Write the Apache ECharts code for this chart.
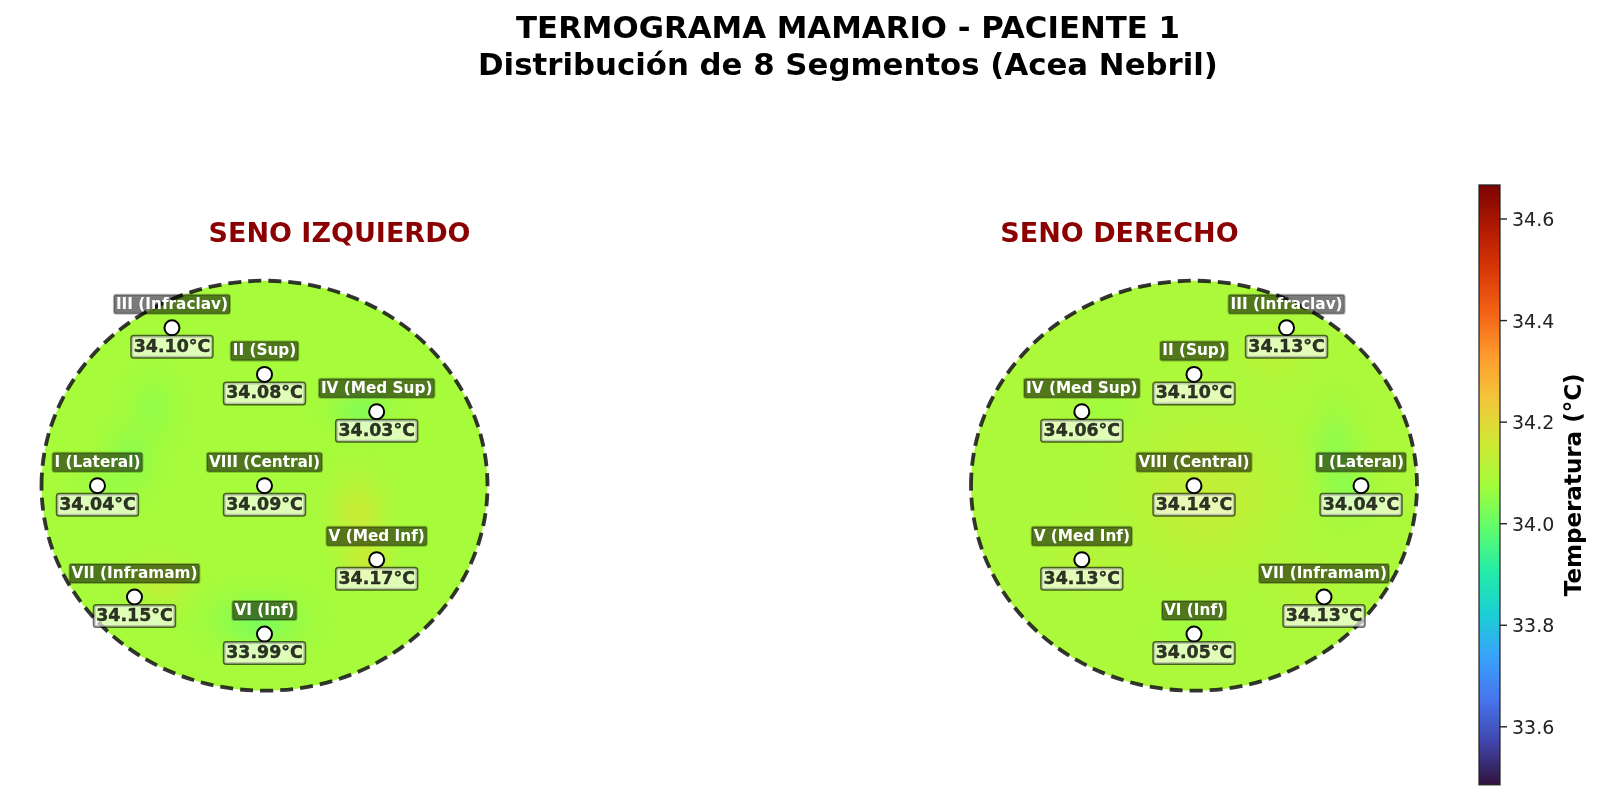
<!DOCTYPE html>
<html>
<head>
<meta charset="utf-8">
<style>html,body{margin:0;padding:0;background:#fff}#c{width:1600px;height:799px}</style>
<script src="https://cdn.jsdelivr.net/npm/echarts@6/dist/echarts.min.js"></script>
</head>
<body>
<div id="c"></div>
<script>
const mainTitle = 'TERMOGRAMA MAMARIO - PACIENTE 1\nDistribución de 8 Segmentos (Acea Nebril)';
const leftTitle = 'SENO IZQUIERDO';
const rightTitle = 'SENO DERECHO';
const colorbarName = 'Temperatura (°C)';
const segments = ['I (Lateral)','II (Sup)','III (Infraclav)','IV (Med Sup)','V (Med Inf)','VI (Inf)','VII (Inframam)','VIII (Central)'];
const segX = [-0.749,0,-0.415,0.503,0.503,0,-0.583,0];
const segY = [0,0.543,0.770,0.361,-0.361,-0.724,-0.543,0];
const valuesLeft  = [34.04,34.08,34.10,34.03,34.17,33.99,34.15,34.09];
const valuesRight = [34.04,34.10,34.13,34.06,34.13,34.05,34.13,34.14];
const baseLeft = 34.08;
const baseRight = 34.09;
// soft field patches: [x, y, temperature, spreadX, spreadY]
const patchesLeft = [
  [-0.60,0.14,34.045,0.20,0.28],
  [-0.50,0.38,34.055,0.20,0.30],
  [0.43,0.37,34.035,0.24,0.16],
  [-0.70,0.0,34.06,0.22,0.20],
  [0.42,-0.14,34.145,0.24,0.36],
  [0.46,-0.36,34.145,0.20,0.22],
  [-0.46,-0.47,34.13,0.26,0.22],
  [-0.03,-0.66,34.025,0.36,0.24]
];
const patchesRight = [
  [0.63,0.16,34.045,0.20,0.40],
  [0.68,-0.02,34.045,0.20,0.24],
  [0.06,-0.05,34.135,0.70,0.72],
  [-0.39,0.37,34.07,0.24,0.18],
  [0,-0.70,34.07,0.28,0.20],
  [0.36,0.60,34.11,0.30,0.22],
  [-0.5,-0.36,34.11,0.32,0.3],
  [0.50,-0.48,34.11,0.26,0.24]
];
const colorMin = 33.486;
const colorMax = 34.667;
const colorTicks = [33.6,33.8,34.0,34.2,34.4,34.6];
const turbo = ['#30123b','#4145ab','#4675ed','#39a2fc','#1bcfd4','#24eca6','#61fc6c','#a4fc3b','#d1e834','#f3c63a','#fe9b2d','#f36315','#d93806','#b11901','#7a0402'];

const FONT = '"DejaVu Sans"';
function tempColor(v){
  return echarts.color.lerp((v-colorMin)/(colorMax-colorMin), turbo);
}
function fieldRender(params, api){
  const c = api.coord([api.value(0), api.value(1)]);
  const s = api.size([api.value(3), api.value(4)]);
  const col = tempColor(api.value(2));
  const mod = echarts.color.modifyAlpha;
  return {
    type:'circle', x:c[0], y:c[1], scaleX:s[0]/100, scaleY:s[1]/100,
    shape:{cx:0,cy:0,r:100},
    style:{fill:new echarts.graphic.RadialGradient(0.5,0.5,0.5,[
      {offset:0,color:mod(col,1)},{offset:0.25,color:mod(col,0.72)},
      {offset:0.5,color:mod(col,0.33)},{offset:0.75,color:mod(col,0.08)},{offset:1,color:mod(col,0)}
    ])}
  };
}
function discRender(dashed){
  return function(params, api){
    const c = api.coord([0,0]);
    const s = api.size([1,1]);
    return {
      type:'ellipse',
      shape:{cx:c[0],cy:c[1],rx:s[0],ry:s[1]},
      style: dashed
        ? {fill:'none',stroke:'rgba(20,20,20,0.86)',lineWidth:3.8,lineDash:[13,7]}
        : {fill:tempColor(api.value(0)),stroke:'none'}
    };
  };
}
function breast(idx, sign, values, base, patches){
  const pts = segments.map((n,i)=>({name:n,value:[sign*segX[i],segY[i],values[i]]}));
  return [
    {type:'custom',xAxisIndex:idx,yAxisIndex:idx,z:1,silent:true,clip:false,data:[[base]],renderItem:discRender(false)},
    {type:'custom',xAxisIndex:idx,yAxisIndex:idx,z:2,silent:true,clip:false,data:patches,renderItem:fieldRender,encode:{x:0,y:1}},
    {type:'custom',xAxisIndex:idx,yAxisIndex:idx,z:3,silent:true,clip:false,data:[[base]],renderItem:discRender(true)},
    {type:'scatter',xAxisIndex:idx,yAxisIndex:idx,z:4,silent:true,symbolSize:15,data:pts,
      itemStyle:{color:'#fff',borderColor:'#000',borderWidth:2,opacity:1},
      label:{show:true,position:'top',distance:5.5,formatter:p=>p.name,color:'#fff',fontFamily:FONT,fontWeight:'bold',fontSize:15.3,
        backgroundColor:'rgba(0,0,0,0.52)',borderColor:'rgba(0,0,0,0.25)',borderWidth:1,borderRadius:2,padding:[2,2,1,2],lineHeight:16}},
    {type:'scatter',xAxisIndex:idx,yAxisIndex:idx,z:5,silent:true,symbolSize:15,data:pts,
      itemStyle:{color:'transparent',borderWidth:0},
      label:{show:true,position:'bottom',distance:1,formatter:p=>p.value[2].toFixed(2)+'°C',color:'#000',fontFamily:FONT,fontWeight:'bold',fontSize:17.4,
        textBorderColor:'#000',textBorderWidth:0.4,
        backgroundColor:'rgba(255,255,255,0.8)',borderColor:'rgba(0,0,0,0.75)',borderWidth:1.5,borderRadius:2,padding:[2,2,1,2],lineHeight:18}}
  ];
}
const hidden = {type:'value',min:-1,max:1,show:false};
const chart = echarts.init(document.getElementById('c'));
chart.setOption({
  animation:false,
  backgroundColor:'#fff',
  title:[
    {text:mainTitle,left:843,top:6,textAlign:'center',textStyle:{fontFamily:FONT,fontWeight:'bold',fontSize:30.8,lineHeight:37,color:'#000'}},
    {text:leftTitle,left:334.5,top:216,textAlign:'center',textStyle:{fontFamily:FONT,fontWeight:'bold',fontSize:27,color:'#8b0000'}},
    {text:rightTitle,left:1114.5,top:216,textAlign:'center',textStyle:{fontFamily:FONT,fontWeight:'bold',fontSize:27,color:'#8b0000'}}
  ],
  grid:[
    {left:41.5,top:280.7,width:446,height:410},
    {left:971,top:280.7,width:446,height:410},
    {left:1479,top:185,width:21,height:599.7,show:false}
  ],
  xAxis:[
    Object.assign({gridIndex:0},hidden),
    Object.assign({gridIndex:1},hidden),
    {gridIndex:2,type:'value',min:0,max:1,show:false}
  ],
  yAxis:[
    Object.assign({gridIndex:0},hidden),
    Object.assign({gridIndex:1},hidden),
    {gridIndex:2,type:'value',position:'right',min:colorMin,max:colorMax,
      name:colorbarName,nameLocation:'middle',nameRotate:90,nameGap:64,
      nameTextStyle:{fontFamily:FONT,fontWeight:'bold',fontSize:23,color:'#000'},
      splitLine:{show:false},
      axisLine:{show:false},
      axisTick:{show:false},
      axisLabel:{show:true,fontFamily:FONT,fontSize:19,color:'#222',margin:12,customValues:colorTicks,formatter:v=>v.toFixed(1),
        verticalAlign:'top',verticalAlignMinLabel:'top',verticalAlignMaxLabel:'top',lineHeight:24,padding:[-10,0,0,0]}}
  ],
  series:[].concat(
    breast(0,1,valuesLeft,baseLeft,patchesLeft),
    breast(1,-1,valuesRight,baseRight,patchesRight),
    [{type:'custom',xAxisIndex:2,yAxisIndex:2,silent:true,clip:false,z:2,data:[[0,colorMin,1,colorMax]],
      encode:{x:[0,2],y:[1,3]},
      renderItem:function(params,api){
        const a = api.coord([api.value(0),api.value(3)]);
        const b = api.coord([api.value(2),api.value(1)]);
        const children = [{type:'rect',shape:{x:a[0],y:a[1],width:b[0]-a[0],height:b[1]-a[1]},
          style:{stroke:'rgba(30,30,30,0.85)',lineWidth:1.4,
            fill:new echarts.graphic.LinearGradient(0,1,0,0,turbo.map((c,i)=>({offset:i/(turbo.length-1),color:c})))}}];
        colorTicks.forEach(function(t){
          const y = api.coord([1,t])[1];
          children.push({type:'rect',shape:{x:b[0],y:y-0.7,width:7,height:1.4},style:{fill:'#222',stroke:'none'}});
        });
        return {type:'group',children:children};
      }}]
  )
});
</script>
</body>
</html>
